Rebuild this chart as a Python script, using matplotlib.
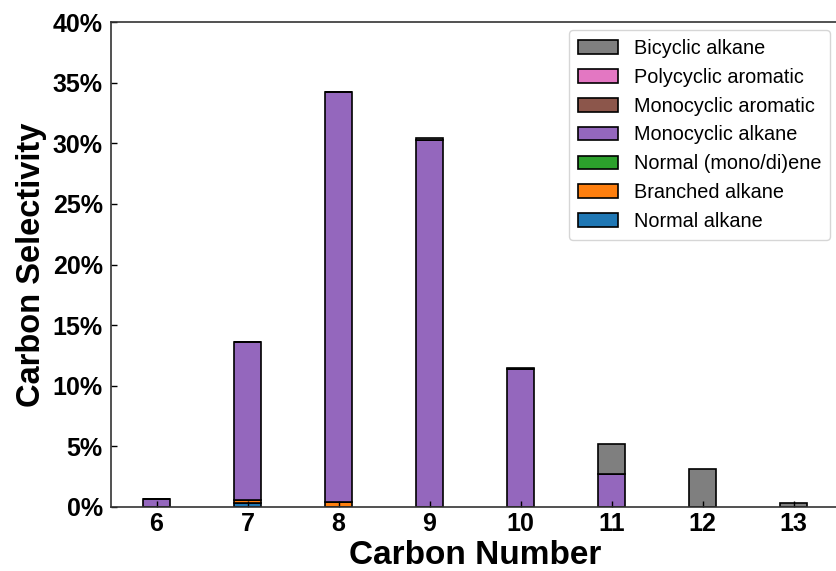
import matplotlib.pyplot as plt
from matplotlib.ticker import FuncFormatter

plt.rcParams['font.family'] = ['Liberation Sans', 'DejaVu Sans']

carbon = [6, 7, 8, 9, 10, 11, 12, 13]

normal_alkane = [0.0, 0.30, 0.0, 0.0, 0.0, 0.0, 0.0, 0.0]
branched_alkane = [0.0, 0.25, 0.40, 0.0, 0.0, 0.0, 0.0, 0.0]
normal_ene = [0.0, 0.0, 0.0, 0.0, 0.0, 0.0, 0.0, 0.0]
monocyclic_alkane = [0.70, 13.05, 33.85, 30.25, 11.40, 2.70, 0.0, 0.0]
monocyclic_aromatic = [0.0, 0.0, 0.0, 0.0, 0.0, 0.0, 0.0, 0.0]
polycyclic_aromatic = [0.0, 0.0, 0.0, 0.0, 0.0, 0.0, 0.0, 0.0]
bicyclic_alkane = [0.0, 0.0, 0.0, 0.15, 0.10, 2.50, 3.15, 0.35]

series = [
    ("Normal alkane", normal_alkane, "#1f77b4"),
    ("Branched alkane", branched_alkane, "#ff7f0e"),
    ("Normal (mono/di)ene", normal_ene, "#2ca02c"),
    ("Monocyclic alkane", monocyclic_alkane, "#9467bd"),
    ("Monocyclic aromatic", monocyclic_aromatic, "#8c564b"),
    ("Polycyclic aromatic", polycyclic_aromatic, "#e377c2"),
    ("Bicyclic alkane", bicyclic_alkane, "#7f7f7f"),
]

fig = plt.figure(figsize=(8.36, 5.71), dpi=100)
ax = fig.add_axes([111 / 836, 1 - 507 / 571, 728 / 836, 485 / 571])

bottom = [0.0] * len(carbon)
for name, vals, color in series:
    ax.bar(carbon, vals, width=0.3, bottom=bottom, color=color,
           edgecolor="black", linewidth=1.2, label=name)
    bottom = [b + v for b, v in zip(bottom, vals)]

ax.set_xlim(5.5, 13.5)
ax.set_ylim(0, 40)
ax.set_xticks(carbon)
ax.set_yticks(range(0, 41, 5))
ax.yaxis.set_major_formatter(FuncFormatter(lambda v, p: f"{v:.0f}%"))
ax.tick_params(direction="in", labelsize=18, width=1, length=4)
ax.tick_params(axis="y", pad=6)
for lab in ax.get_xticklabels() + ax.get_yticklabels():
    lab.set_fontweight("bold")
for sp in ax.spines.values():
    sp.set_linewidth(1.2)
    sp.set_color("#333333")

ax.set_xlabel("Carbon Number", fontsize=24, fontweight="bold", labelpad=3)
ax.set_ylabel("Carbon Selectivity", fontsize=23.5, fontweight="bold", labelpad=4)

handles, labels = ax.get_legend_handles_labels()
leg = ax.legend(handles[::-1], labels[::-1], loc="upper right", fontsize=14.3,
                bbox_to_anchor=(0.988, 0.984), borderaxespad=0,
                handlelength=2.0, handleheight=0.7, handletextpad=0.8,
                labelspacing=0.5, borderpad=0.45)
leg.get_frame().set_edgecolor("#cccccc")

fig.savefig("out.png", dpi=100)
